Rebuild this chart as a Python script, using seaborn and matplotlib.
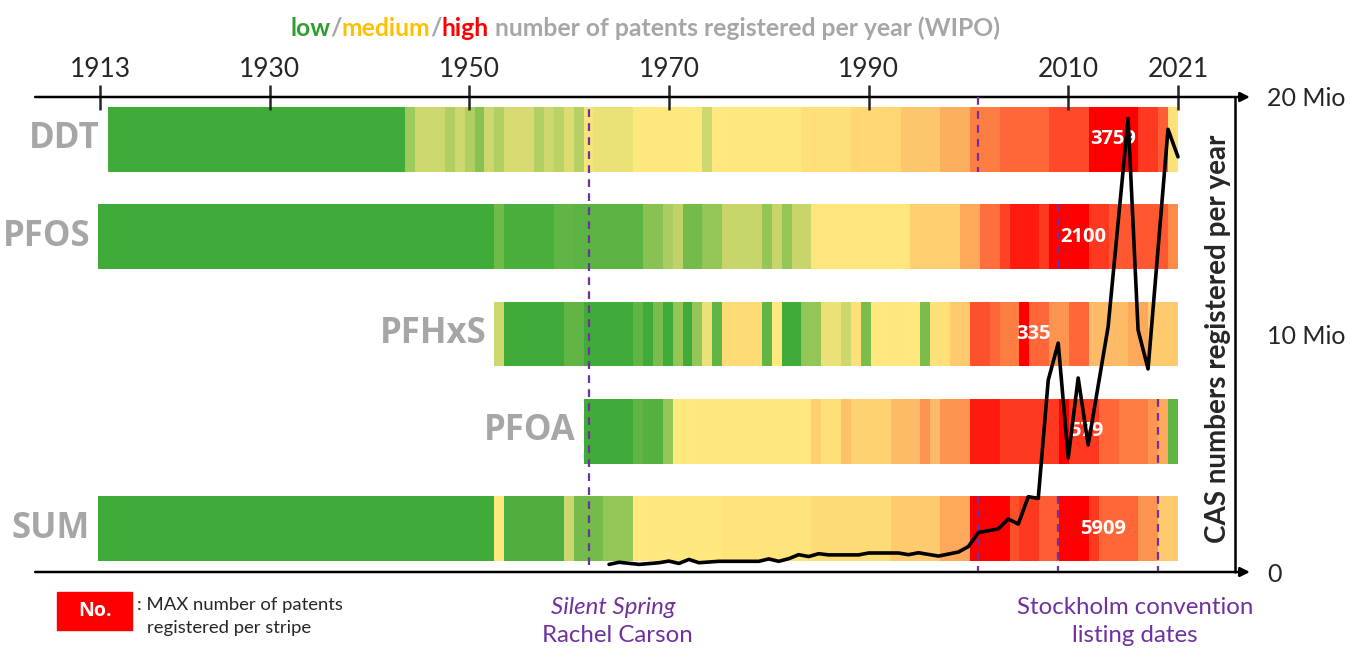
import matplotlib.pyplot as plt
import matplotlib.patches as mpatches
import matplotlib.transforms as mtransforms
from matplotlib.colors import LinearSegmentedColormap
import numpy as np
import pandas as pd
import seaborn as sns

# ---- data ----
years = list(range(1913, 2022))
substances = ['DDT', 'PFOS', 'PFHxS', 'PFOA', 'SUM']
max_patents = ['3759', '2100', '335', '579', '5909']
max_label_years = [2014.5, 2011.5, 2006.5, 2011.8, 2013.5]

# stripes: (first year, last year, level 0 = low ... 10 = high)
ddt_stripes = [(1914, 1943, 0), (1944, 1944, 2.2), (1945, 1947, 3), (1948, 1948, 2.5),
               (1949, 1949, 3), (1950, 1950, 2.5), (1951, 1951, 1.8), (1952, 1952, 3),
               (1953, 1953, 2.5), (1954, 1956, 3.2), (1957, 1957, 2.5), (1958, 1958, 3),
               (1959, 1959, 2.7), (1960, 1960, 3.3), (1961, 1961, 2.6), (1962, 1962, 3.8),
               (1963, 1966, 3.6), (1967, 1973, 4), (1974, 1974, 3), (1975, 1983, 4.1),
               (1984, 1988, 4.6), (1989, 1993, 5), (1994, 1997, 5.6), (1998, 2000, 6.3),
               (2001, 2003, 7.5), (2004, 2008, 8), (2009, 2012, 8.6), (2013, 2017, 10),
               (2018, 2019, 9), (2020, 2020, 8.2), (2021, 2021, 4.5)]
pfos_stripes = [(1913, 1952, 0), (1953, 1953, 1.3), (1954, 1958, 0.3), (1959, 1960, 1),
                (1961, 1967, 0.8), (1968, 1969, 1.8), (1970, 1970, 2.4), (1971, 1971, 2.8),
                (1972, 1973, 1.4), (1974, 1975, 2), (1976, 1979, 2.9), (1980, 1980, 2),
                (1981, 1981, 2.9), (1982, 1982, 2), (1983, 1984, 2.9), (1985, 1994, 4.2),
                (1995, 1999, 5.3), (2000, 2001, 6.5), (2002, 2003, 7.8), (2004, 2004, 8.8),
                (2005, 2007, 9.5), (2008, 2008, 9), (2009, 2012, 10), (2013, 2014, 9),
                (2015, 2020, 8.3), (2021, 2021, 7.2)]
pfhxs_stripes = [(1953, 1953, 3), (1954, 1959, 0), (1960, 1961, 1), (1962, 1966, 0),
                 (1967, 1967, 1), (1968, 1968, 0), (1969, 1969, 1.5), (1970, 1970, 0),
                 (1971, 1971, 2), (1972, 1972, 0), (1973, 1973, 2), (1974, 1974, 3.6),
                 (1975, 1975, 1), (1976, 1979, 4.8), (1980, 1980, 1), (1981, 1981, 4),
                 (1982, 1983, 0), (1984, 1985, 2), (1986, 1987, 3.6), (1988, 1988, 3),
                 (1989, 1989, 4.6), (1990, 1990, 1.5), (1991, 1995, 4), (1996, 1996, 1.5),
                 (1997, 1998, 4.5), (1999, 2000, 5.5), (2001, 2002, 8.5), (2003, 2003, 8),
                 (2004, 2005, 7.5), (2006, 2006, 10), (2007, 2008, 8), (2009, 2010, 7),
                 (2011, 2012, 8), (2013, 2016, 6), (2017, 2018, 6.5), (2019, 2021, 5.5)]
pfoa_stripes = [(1962, 1966, 0), (1967, 1967, 1), (1968, 1969, 0.6), (1970, 1970, 2),
                (1971, 1984, 4.1), (1985, 1985, 5.3), (1986, 1987, 4.5), (1988, 1988, 5.8),
                (1989, 1992, 5.2), (1993, 1995, 6), (1996, 1996, 7), (1997, 1997, 6),
                (1998, 2000, 7), (2001, 2003, 9.5), (2004, 2009, 9), (2010, 2010, 10),
                (2011, 2013, 9), (2014, 2015, 8), (2016, 2018, 7.5), (2019, 2019, 7),
                (2020, 2020, 6.5), (2021, 2021, 1)]
sum_stripes = [(1913, 1952, 0), (1953, 1953, 4), (1954, 1959, 0.4), (1960, 1960, 3),
               (1961, 1963, 1.4), (1964, 1966, 2), (1967, 1975, 4), (1976, 1984, 4.3),
               (1985, 1992, 4.8), (1993, 1997, 5.5), (1998, 2000, 6.5), (2001, 2004, 10),
               (2005, 2005, 8.5), (2006, 2007, 9), (2008, 2009, 8.2), (2010, 2012, 10),
               (2013, 2013, 9), (2014, 2017, 8), (2018, 2019, 7), (2020, 2021, 5.5)]
all_stripes = [ddt_stripes, pfos_stripes, pfhxs_stripes, pfoa_stripes, sum_stripes]

# CAS numbers registered per year (millions)
cas_years = [1964, 1965, 1967, 1969, 1970, 1971, 1972, 1973, 1975, 1979, 1980, 1981,
             1982, 1983, 1984, 1985, 1986, 1989, 1990, 1993, 1994, 1995, 1997, 1999,
             2000, 2001, 2002, 2003, 2004, 2005, 2006, 2007, 2008, 2009, 2010, 2011,
             2012, 2014, 2016, 2017, 2018, 2020, 2021]
cas_mio = [0.32, 0.41, 0.32, 0.39, 0.46, 0.36, 0.53, 0.39, 0.45, 0.45, 0.55, 0.45,
           0.56, 0.73, 0.65, 0.77, 0.72, 0.72, 0.80, 0.80, 0.73, 0.81, 0.67, 0.84,
           1.07, 1.66, 1.74, 1.82, 2.23, 2.02, 3.17, 3.10, 8.08, 9.64, 4.80, 8.17,
           5.35, 10.33, 19.10, 10.19, 8.55, 18.64, 17.48]

silent_spring_year = 1962
stockholm_years = {'DDT': 2001, 'PFOS': 2009, 'PFOA': 2019}
tick_years = [1913, 1930, 1950, 1970, 1990, 2010, 2021]

# ---- style ----
sns.set_style('white')
plt.rcParams['font.family'] = ['Lato', 'DejaVu Sans']

GREY = '#A6A6A6'
PURPLE = '#7030A0'
cmap = LinearSegmentedColormap.from_list('patents', [
    '#41ab3a', '#62b545', '#93c557', '#cdd76d', '#ffe97e', '#fed873',
    '#fdbb67', '#fd9650', '#ff6638', '#ff3a20', '#ff0000'])


def stripe_row(stripes):
    row = pd.Series(np.nan, index=years)
    for first, last, level in stripes:
        row.loc[first:last] = level
    return row.values


rows = []
gap = np.full(len(years), np.nan)
for i, stripes in enumerate(all_stripes):
    r = stripe_row(stripes)
    rows += [r, r]
    if i < len(all_stripes) - 1:
        rows.append(gap)
grid = pd.DataFrame(rows, columns=years)

fig = plt.figure(figsize=(13.55, 6.5), dpi=100)

# heat stripes
ax_heat = fig.add_axes([98 / 1355, 89 / 650, 1080 / 1355, 454 / 650])
sns.heatmap(grid, ax=ax_heat, cmap=cmap, vmin=0, vmax=10, cbar=False,
            xticklabels=False, yticklabels=False)
ax_heat.axis('off')

# CAS line on top
ax_line = fig.add_axes([98 / 1355, 78 / 650, 1080 / 1355, 475 / 650])
ax_line.set_facecolor('none')
sns.lineplot(x=cas_years, y=cas_mio, ax=ax_line, color='black', lw=2.6,
             clip_on=False, zorder=5)
ax_line.set_xlim(1912.8, 2020.8)
ax_line.set_ylim(0, 20)
for sp in ax_line.spines.values():
    sp.set_visible(False)
ax_line.set_xticks(tick_years)
ax_line.set_xticklabels([str(y) for y in tick_years])
ax_line.tick_params(axis='x', top=True, bottom=False, labeltop=True, labelbottom=False,
                    direction='inout', length=18, width=1.8, pad=2, labelsize=19)
ax_line.yaxis.tick_right()
ax_line.set_yticks([0, 10, 20])
ax_line.set_yticklabels(['0', '10 Mio', '20 Mio'])
ax_line.tick_params(axis='y', right=False, left=False, length=0, pad=64, labelsize=18)
ax_line.set_xlabel('')
ax_line.set_ylabel('')

# axis lines with arrows
arrow = dict(arrowstyle='-|>', color='black', lw=1.8, mutation_scale=14,
             shrinkA=0, shrinkB=0)
for yv in [0, 20]:
    ax_line.annotate('', xy=(2028.2, yv), xytext=(1906.5, yv), arrowprops=arrow,
                     annotation_clip=False)
ax_line.plot([2026.7, 2026.7], [0, 20], color='black', lw=1.8, clip_on=False)
ax_line.text(1.037, 0.49, 'CAS numbers registered per year', transform=ax_line.transAxes,
             rotation=90, ha='center', va='center', fontsize=20, fontweight='bold')

# purple dashed event lines
dash = dict(color=PURPLE, lw=1.6, dashes=(3.5, 2.8), clip_on=False, zorder=4)
ax_line.plot([silent_spring_year, silent_spring_year], [0.3, 19.7], **dash)
trans = mtransforms.blended_transform_factory(ax_line.transData, ax_heat.transData)
for name, yr in stockholm_years.items():
    i = substances.index(name)
    top = 3 * i - (0.3 if i == 0 else 0)
    ax_line.plot([yr, yr], [top, 3 * i + 2], transform=trans, **dash)
    ax_line.plot([yr, yr], [12, 14.3], transform=trans, **dash)

# row labels and max values
for i, name in enumerate(substances):
    start = all_stripes[i][0][0] - 1913
    ax_heat.text(start - 0.8, 3 * i + 1, name, ha='right', va='center', fontsize=25,
                 fontweight='bold', color=GREY, family='Open Sans')
    ax_line.text(max_label_years[i], 3 * i + 1, max_patents[i], transform=trans,
                 ha='center', va='center', fontsize=14.5, fontweight='bold',
                 color='white', family='Open Sans', zorder=3)

# multi-coloured title
parts = [('low', '#2E9E2E'), ('/', GREY), ('medium', '#FFC000'), ('/', GREY),
         ('high', '#FF0000'), (' number of patents registered per year (WIPO)', GREY)]
t = fig.text(290 / 1355, 1 - 28 / 650, parts[0][0], color=parts[0][1], fontsize=17.8,
             fontweight='bold', va='center')
for txt, col in parts[1:]:
    t = ax_line.annotate(txt, xy=(1, 0), xycoords=t, va='bottom', ha='left', color=col,
                         fontsize=17.8, fontweight='bold', annotation_clip=False)

# legend box
fig.patches.append(mpatches.Rectangle((57 / 1355, 1 - 630 / 650), 75 / 1355, 38 / 650,
                                      transform=fig.transFigure, color='#FF0000'))
fig.text(95 / 1355, 1 - 611 / 650, 'No.', color='white', fontsize=14,
         fontweight='bold', ha='center', va='center', family='Open Sans')
fig.text(137 / 1355, 1 - 605 / 650, ': MAX number of patents', fontsize=13.3,
         ha='left', va='center')
fig.text(147 / 1355, 1 - 628 / 650, 'registered per stripe', fontsize=13.3,
         ha='left', va='center')

# bottom annotations
fig.text(613 / 1355, 1 - 608 / 650, 'Silent Spring', color=PURPLE, fontsize=17.3,
         style='italic', ha='center', va='center')
fig.text(617 / 1355, 1 - 636 / 650, 'Rachel Carson', color=PURPLE, fontsize=17.3,
         ha='center', va='center')
fig.text(1135 / 1355, 1 - 608 / 650, 'Stockholm convention', color=PURPLE, fontsize=17.3,
         ha='center', va='center')
fig.text(1135 / 1355, 1 - 636 / 650, 'listing dates', color=PURPLE, fontsize=17.3,
         ha='center', va='center')

fig.savefig('out.png', dpi=100)
